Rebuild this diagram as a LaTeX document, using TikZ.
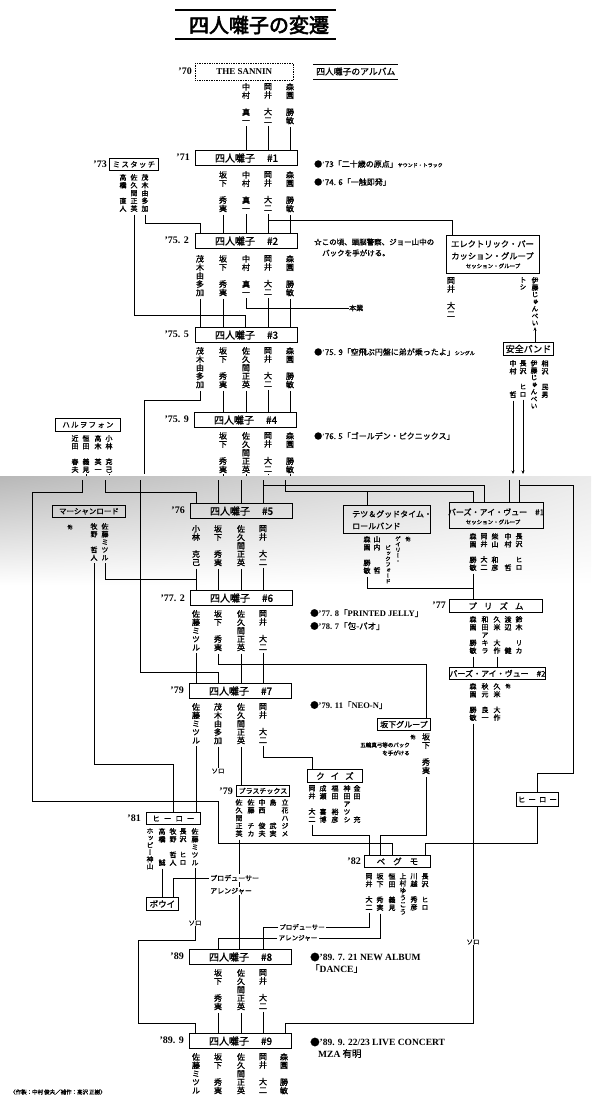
\documentclass[tikz,border=0pt]{standalone}
\usepackage{fontspec}
\usetikzlibrary{arrows.meta,shadings}
\newfontfamily\jp[FakeBold=1]{Noto Sans CJK JP}
\newfontfamily\jpv[RawFeature=+vert,FakeBold=1.4]{Noto Sans CJK JP}
\newfontfamily\jpm[FakeBold=1.6]{Noto Sans CJK JP}
\newfontfamily\jpb[FakeBold=3]{Noto Sans CJK JP}
\newfontfamily\ser{Liberation Serif}
\lineskiplimit=-20pt
\newcommand\gp{\\[8.4pt]}
\newcommand\gpp{\\[16.8pt]}
\newcommand\gq{\\[7.8pt]}
\newcommand\gqq{\\[15.6pt]}
\newcommand\ap{{\ser ’}}
\newcommand\sbf{\ser\bfseries}
\newcommand\dn[2]{\draw[ln] ([yshift=-2.5pt]#1.south) -- (#1.south |- #2.north);}
\begin{document}
\begin{tikzpicture}[x=1pt,y=-1pt,
 ln/.style={line width=0.75pt},
 arr/.style={line width=0.75pt,-{Stealth[length=3.5pt,width=3pt]}},
 mbox/.style={draw,line width=1.1pt,minimum width=102pt,minimum height=15pt,inner sep=0pt,anchor=north west,font=\jpm\fontsize{10}{10}\selectfont},
 gbox/.style={draw,line width=0.9pt,inner sep=0pt,anchor=north west},
 nm/.style={anchor=north,align=center,inner sep=0pt,font=\jpv\fontsize{8}{8.4}\selectfont},
 nms/.style={anchor=north,align=center,inner sep=0pt,font=\jpv\fontsize{7}{7.8}\selectfont},
 nmt/.style={anchor=north,align=center,inner sep=0pt,font=\jpv\fontsize{6.8}{7.1}\selectfont},
 nmx/.style={anchor=north,align=center,inner sep=0pt,font=\jpv\fontsize{5.5}{5.6}\selectfont},
 yr/.style={anchor=east,inner sep=0pt,font=\ser\bfseries\fontsize{10}{10}\selectfont},
 txt/.style={anchor=west,inner sep=0pt,font=\jp\fontsize{8}{8}\selectfont},
 sml/.style={inner sep=0pt,font=\jp\fontsize{5}{5}\selectfont},
 lab/.style={fill=white,inner sep=1pt,font=\jp\fontsize{7}{7}\selectfont},
 btxt/.style={inner sep=0pt,font=\jp\fontsize{8}{8}\selectfont},
]
\useasboundingbox (0,0) rectangle (591,1107);
\fill[white] (0,0) rectangle (591,1107);
\shade[upper left=black!28, upper right=black!8, lower left=white, lower right=white] (0,476) rectangle (591,585);

% title
\node[font=\jpb\fontsize{20}{20}\selectfont,inner sep=0pt] (title) at (259,25) {四人囃子の変遷};
\draw[line width=1.5pt] (175,10) -- (336,10);
\draw[line width=1.5pt] (175,39) -- (336,39);

% THE SANNIN
\node[yr] (y70) at (192,71.5) {’70};
\node[draw,densely dotted,line width=0.7pt,minimum width=98pt,minimum height=17pt,inner sep=0pt,anchor=north west,font=\ser\bfseries\fontsize{9}{9}\selectfont] (sannin) at (195,63) {THE SANNIN};
\node[txt,font=\jp\fontsize{8.8}{8.8}\selectfont] (albt) at (316,71.5) {四人囃子のアルバム};
\draw[line width=0.9pt] (313,64) -- (398,64);
\draw[line width=0.9pt] (313,79) -- (398,79);
\node[nm] (s0a) at (246,83) {中\\村\gp 真\\一};
\node[nm] (s0b) at (268,83) {岡\\井\gp 大\\二};
\node[nm] (s0c) at (290,83) {森\\園\gp 勝\\敏};

% #1
\node[yr] (y71) at (190,157) {’71};
\node[mbox] (b1) at (195,150) {四人囃子\hspace{12pt}\#1};
\node[nm] (s1a) at (223,171) {坂\\下\gp 秀\\実};
\node[nm] (s1b) at (246,171) {中\\村\gp 真\\一};
\node[nm] (s1c) at (268,171) {岡\\井\gp 大\\二};
\node[nm] (s1d) at (290,171) {森\\園\gp 勝\\敏};
\node[txt] (al73) at (314,164) {●\ap73「二十歳の原点」{\fontsize{5}{5}\selectfont サウンド・トラック}};
\node[txt] (al74) at (314,182) {●\ap74. 6「一触即発」};

% Mistouch
\node[yr] (y73) at (107,164) {’73};
\node[gbox,minimum width=49pt,minimum height=12pt,font=\jp\fontsize{7.5}{7.5}\selectfont] (mist) at (109,158) {ミ\,ス\,タ\,ッ\,チ};
\node[nms] (mt1) at (123,174) {高\\橋\gq 直\\人};
\node[nms] (mt2) at (134,174) {佐\\久\\間\\正\\英};
\node[nms] (mt3) at (145,174) {茂\\木\\由\\多\\加};

% #2
\node[yr] (y752) at (189,240.5) {’75. 2};
\node[mbox] (b2) at (195,233) {四人囃子\hspace{12pt}\#2};
\node[nm] (s2a) at (200,255) {茂\\木\\由\\多\\加};
\node[nm] (s2b) at (223,255) {坂\\下\gp 秀\\実};
\node[nm] (s2c) at (246,255) {中\\村\gp 真\\一};
\node[nm] (s2d) at (268,255) {岡\\井\gp 大\\二};
\node[nm] (s2e) at (290,255) {森\\園\gp 勝\\敏};
\node[anchor=west,inner sep=0pt,font=\jp\fontsize{7.5}{7.5}\selectfont] (note1) at (314,242) {☆この頃、頭脳警察、ジョー山中の};
\node[anchor=west,inner sep=0pt,font=\jp\fontsize{7.5}{7.5}\selectfont] (note2) at (322,253) {バックを手がける。};
\node[anchor=west,inner sep=0pt,font=\jp\fontsize{7}{7}\selectfont] (hongyo) at (349,308) {本業};

% EPG
\node[gbox,minimum width=93pt,minimum height=38pt] (epg) at (446,235) {};
\node[inner sep=0pt,font=\jp\fontsize{8.3}{8.3}\selectfont] (epg1) at (492.5,244) {エレクトリック・パー};
\node[inner sep=0pt,font=\jp\fontsize{8.3}{8.3}\selectfont] (epg2) at (492.5,256) {カッション・グループ};
\node[inner sep=0pt,font=\jp\fontsize{5.5}{5.5}\selectfont] (epg3) at (493,266) {セッション・グループ};
\node[nm] (ep1) at (451,277) {岡\\井\gp 大\\二};
\node[nmt] (ep2) at (523,277) {ト\\シ};
\node[nmt] (ep3) at (535,277) {伊\\藤\\じ\\ゅ\\ん\\ぺ\\い};

% Anzen band
\node[gbox,minimum width=50pt,minimum height=13pt,font=\jp\fontsize{9}{9}\selectfont] (anzen) at (503,342) {安全バンド};
\node[nms] (ab1) at (513,360) {中\\村\gqq 哲};
\node[nms] (ab2) at (523,360) {長\\沢\gq ヒ\\ロ};
\node[nmt] (ab3) at (534,360) {伊\\藤\\じ\\ゅ\\ん\\ぺ\\い};
\node[nms] (ab4) at (545,360) {相\\沢\gq 民\\男};

% #3
\node[yr] (y755) at (189,334.5) {’75. 5};
\node[mbox] (b3) at (195,327) {四人囃子\hspace{12pt}\#3};
\node[nm] (s3a) at (200,347) {茂\\木\\由\\多\\加};
\node[nm] (s3b) at (223,347) {坂\\下\gp 秀\\実};
\node[nm] (s3c) at (246,347) {佐\\久\\間\\正\\英};
\node[nm] (s3d) at (268,347) {岡\\井\gp 大\\二};
\node[nm] (s3e) at (290,347) {森\\園\gp 勝\\敏};
\node[txt] (al759) at (314,352) {●\ap75. 9「空飛ぶ円盤に弟が乗ったよ」{\fontsize{5}{5}\selectfont シングル}};

% #4
\node[yr] (y759) at (189,419.5) {’75. 9};
\node[mbox] (b4) at (194,412) {四人囃子\hspace{12pt}\#4};
\node[nm] (s4a) at (223,432) {坂\\下\gp 秀\\実};
\node[nm] (s4b) at (246,432) {佐\\久\\間\\正\\英};
\node[nm] (s4c) at (268,432) {岡\\井\gp 大\\二};
\node[nm] (s4d) at (290,432) {森\\園\gp 勝\\敏};
\node[txt] (al765) at (314,436) {●\ap76. 5「ゴールデン・ピクニックス」};

% Halvo-phone
\node[gbox,minimum width=65pt,minimum height=13pt,font=\jp\fontsize{7.5}{7.5}\selectfont] (harvo) at (55,418) {ハ\,ル\,ヲ\,フ\,ォ\,ン};
\node[nms] (hf1) at (75,435) {近\\田\gq 春\\夫};
\node[nms] (hf2) at (86,435) {恒\\田\gq 義\\見};
\node[nms] (hf3) at (98,435) {高\\木\gq 英\\一};
\node[nms] (hf4) at (109,435) {小\\林\gq 克\\己};

% Martian road
\node[gbox,minimum width=73pt,minimum height=12pt,font=\jp\fontsize{7.5}{7.5}\selectfont] (mars) at (52,505) {マーシャンロード};
\node[sml] (ml0) at (70,527) {他};
\node[nms] (ml1) at (94,523) {牧\\野\gq 哲\\人};
\node[nms] (ml2) at (105,523) {佐\\藤\\ミ\\ツ\\ル};

% #5
\node[yr] (y76) at (185,510.5) {’76};
\node[mbox] (b5) at (190,503) {四人囃子\hspace{12pt}\#5};
\node[nm] (s5a) at (196,525) {小\\林\gp 克\\己};
\node[nm] (s5b) at (218,525) {坂\\下\gp 秀\\実};
\node[nm] (s5c) at (241,525) {佐\\久\\間\\正\\英};
\node[nm] (s5d) at (263,525) {岡\\井\gp 大\\二};

% Tetsu
\node[gbox,minimum width=87pt,minimum height=28pt] (tetsu) at (343,505) {};
\node[anchor=west,inner sep=0pt,font=\jp\fontsize{8}{8}\selectfont] (tt1) at (352,514) {テツ＆グッドタイム・};
\node[anchor=west,inner sep=0pt,font=\jp\fontsize{8}{8}\selectfont] (tt2) at (352,526) {ロールバンド};
\node[nms] (tg1) at (367,536) {森\\園\gq 勝\\敏};
\node[nms] (tg2) at (377,536) {山\\内\gqq 哲};
\node[nmx] (tg3) at (388,545) {ビ\\ッ\\ク\\フ\\ォ\\ー\\ド};
\node[nmx] (tg4) at (398,536) {ゲ\\イ\\リ\\ー\\・};
\node[sml] (tg0) at (408,539) {他};

% BIV 1
\node[gbox,minimum width=94pt,minimum height=26pt] (biv1) at (449,502) {};
\node[btxt] (bv1t) at (496,512) {バーズ・アイ・ヴュー\hspace{8pt}\#1};
\node[inner sep=0pt,font=\jp\fontsize{5.5}{5.5}\selectfont] (bv1s) at (493,522) {セッション・グループ};
\node[nms] (bv1) at (473,533) {森\\園\gq 勝\\敏};
\node[nms] (bv2) at (484,533) {岡\\井\gq 大\\二};
\node[nms] (bv3) at (495,533) {柴\\山\gq 和\\彦};
\node[nms] (bv4) at (508,533) {中\\村\gqq 哲};
\node[nms] (bv5) at (519,533) {長\\沢\gq ヒ\\ロ};

% #6
\node[yr] (y772) at (185,598) {’77. 2};
\node[mbox] (b6) at (190,590) {四人囃子\hspace{12pt}\#6};
\node[nm] (s6a) at (196,610) {佐\\藤\\ミ\\ツ\\ル};
\node[nm] (s6b) at (218,610) {坂\\下\gp 秀\\実};
\node[nm] (s6c) at (241,610) {佐\\久\\間\\正\\英};
\node[nm] (s6d) at (263,610) {岡\\井\gp 大\\二};
\node[txt,font=\jp\fontsize{8.5}{8.5}\selectfont] (al778) at (310,613) {●{\sbf ’77. 8}「{\sbf PRINTED JELLY}」};
\node[txt,font=\jp\fontsize{8.5}{8.5}\selectfont] (al787) at (310,626) {●{\sbf ’78. 7}「包-パオ」};

% Prism
\node[yr] (y77) at (446,605.5) {’77};
\node[gbox,minimum width=93pt,minimum height=13pt,font=\jp\fontsize{8.5}{8.5}\selectfont] (prism) at (449,599) {プ\hspace{7pt}リ\hspace{7pt}ズ\hspace{7pt}ム};
\node[nms] (pr1) at (473,616) {森\\園\gq 勝\\敏};
\node[nms] (pr2) at (485,616) {和\\田\\ア\\キ\\ラ};
\node[nms] (pr3) at (497,616) {久\\米\gq 大\\作};
\node[nms] (pr4) at (508,616) {渡\\辺\gqq 健};
\node[nms] (pr5) at (519,616) {鈴\\木\gq リ\\カ};

% BIV 2
\node[gbox,minimum width=93pt,minimum height=12pt,font=\jp\fontsize{8}{8}\selectfont] (biv2) at (449,667) {バーズ・アイ・ヴュー\hspace{8pt}\#2};
\node[nms] (b2a) at (473,683) {森\\園\gq 勝\\敏};
\node[nms] (b2b) at (485,683) {秋\\元\gq 良\\一};
\node[nms] (b2c) at (497,683) {久\\米\gq 大\\作};
\node[sml] (b2d) at (508,686) {他};

% #7
\node[yr] (y79) at (184,690.5) {’79};
\node[mbox] (b7) at (189,683) {四人囃子\hspace{12pt}\#7};
\node[nm] (s7a) at (196,703) {佐\\藤\\ミ\\ツ\\ル};
\node[nm] (s7b) at (218,703) {茂\\木\\由\\多\\加};
\node[nm] (s7c) at (241,703) {佐\\久\\間\\正\\英};
\node[nm] (s7d) at (263,703) {岡\\井\gp 大\\二};
\node[txt,font=\jp\fontsize{8.5}{8.5}\selectfont] (al7911) at (310,705) {●{\sbf ’79. 11}「{\sbf NEO-N}」};
\node[inner sep=0pt,font=\jp\fontsize{6.5}{6.5}\selectfont] (solo1) at (218,771) {ソロ};

% Sakashita group
\node[gbox,minimum width=53pt,minimum height=12pt,font=\jp\fontsize{8}{8}\selectfont] (sgrp) at (377,718) {坂下グループ};
\node[sml] (sgt0) at (413,737) {他};
\node[anchor=east,inner sep=0pt,font=\jp\fontsize{5.5}{5.5}\selectfont] (sgt1) at (410,745) {五輪真弓等のバック};
\node[anchor=east,inner sep=0pt,font=\jp\fontsize{5.5}{5.5}\selectfont] (sgt2) at (410,753) {を手がける};
\node[nm] (sg1) at (426,733) {坂\\下\gp 秀\\実};

% Quiz
\node[gbox,minimum width=55pt,minimum height=13pt,font=\jp\fontsize{8.5}{8.5}\selectfont] (quiz) at (307,769) {ク\hspace{6pt}イ\hspace{6pt}ズ};
\node[nms] (qz1) at (312,785) {岡\\井\gq 大\\二};
\node[nms] (qz2) at (323,785) {成\\瀬\gq 喜\\博};
\node[nms] (qz3) at (335,785) {福\\田\gq 裕\\彦};
\node[nms] (qz4) at (347,785) {神\\田\\ア\\ツ\\シ};
\node[nms] (qz5) at (357,785) {金\\田\gqq 充};

% Plastics
\node[yr] (y79b) at (233,791) {’79};
\node[gbox,minimum width=53pt,minimum height=11pt,font=\jp\fontsize{7}{7}\selectfont] (plas) at (236,785) {プラスチックス};
\node[nms] (pl1) at (239,799) {佐\\久\\間\\正\\英};
\node[nms] (pl2) at (251,799) {佐\\藤\gq チ\\カ};
\node[nms] (pl3) at (262,799) {中\\西\gq 俊\\夫};
\node[nms] (pl4) at (273,799) {島\\[15.6pt]武\\実};
\node[nms] (pl5) at (285,799) {立\\花\\ハ\\ジ\\メ};

% Hero (left)
\node[yr] (y81) at (141,818.5) {’81};
\node[gbox,minimum width=54pt,minimum height=12pt,font=\jp\fontsize{7.5}{7.5}\selectfont] (heroL) at (146,812) {ヒ\hspace{4pt}ー\hspace{4pt}ロ\hspace{4pt}ー};
\node[nmt] (hr1) at (150,828) {ホ\\ッ\\ピ\\ー\\神\\山};
\node[nms] (hr2) at (162,828) {高\\橋\gqq 誠};
\node[nms] (hr3) at (173,828) {牧\\野\gq 哲\\人};
\node[nms] (hr4) at (183,828) {長\\沢\gq ヒ\\ロ};
\node[nms] (hr5) at (195,828) {佐\\藤\\ミ\\ツ\\ル};
\node[gbox,minimum width=32pt,minimum height=13pt,font=\jp\fontsize{8.5}{8.5}\selectfont] (bowie) at (146,897) {ボウイ};
\node[inner sep=0pt,font=\jp\fontsize{6.5}{6.5}\selectfont] (solo2) at (195,923) {ソロ};

% Hero (right)
\node[gbox,minimum width=42pt,minimum height=14pt,font=\jp\fontsize{7.5}{7.5}\selectfont] (heroR) at (516,792) {ヒ\hspace{3pt}ー\hspace{3pt}ロ\hspace{3pt}ー};

% Begumo
\node[yr] (y82) at (361,861.5) {’82};
\node[gbox,minimum width=66pt,minimum height=12pt,font=\jp\fontsize{8.5}{8.5}\selectfont] (begumo) at (364,855) {ベ\hspace{8pt}グ\hspace{8pt}モ};
\node[nms] (bg1) at (369,873) {岡\\井\gq 大\\二};
\node[nms] (bg2) at (380,873) {坂\\下\gq 秀\\実};
\node[nms] (bg3) at (392,873) {恒\\田\gq 義\\見};
\node[nmt] (bg4) at (403,873) {上\\村\\ゆ\\う\\こ\\う};
\node[nms] (bg5) at (414,873) {川\\越\gq 秀\\彦};
\node[nms] (bg6) at (425,873) {長\\沢\gq ヒ\\ロ};

% #8
\node[yr] (y89) at (184,956.5) {’89};
\node[mbox] (b8) at (189,949) {四人囃子\hspace{12pt}\#8};
\node[nm] (s8a) at (218,969) {坂\\下\gp 秀\\実};
\node[nm] (s8b) at (241,969) {佐\\久\\間\\正\\英};
\node[nm] (s8c) at (263,969) {岡\\井\gp 大\\二};
\node[txt,font=\jp\fontsize{9.5}{9.5}\selectfont] (al89a) at (310,957) {●{\sbf ’89. 7. 21 NEW ALBUM}};
\node[txt,font=\jp\fontsize{9.5}{9.5}\selectfont] (al89b) at (310,968.5) {「{\sbf DANCE}」};
\node[lab,font=\jp\fontsize{6.5}{6.5}\selectfont] (prod2) at (302,927) {プロデューサー};
\node[lab,font=\jp\fontsize{6.5}{6.5}\selectfont] (arr2) at (298,938) {アレンジャー};
\node[inner sep=0pt,font=\jp\fontsize{6.5}{6.5}\selectfont] (solo3) at (473,942) {ソロ};

% #9
\node[yr] (y899) at (184,1040.5) {’89. 9};
\node[mbox] (b9) at (189,1033) {四人囃子\hspace{12pt}\#9};
\node[nm] (s9a) at (196,1053) {佐\\藤\\ミ\\ツ\\ル};
\node[nm] (s9b) at (218,1053) {坂\\下\gp 秀\\実};
\node[nm] (s9c) at (241,1053) {佐\\久\\間\\正\\英};
\node[nm] (s9d) at (263,1053) {岡\\井\gp 大\\二};
\node[nm] (s9e) at (284,1053) {森\\園\gp 勝\\敏};
\node[txt,font=\jp\fontsize{9.5}{9.5}\selectfont] (al99a) at (310,1042) {●{\sbf ’89. 9. 22/23 LIVE CONCERT}};
\node[txt,font=\jp\fontsize{9.5}{9.5}\selectfont] (al99b) at (318,1053.5) {{\sbf MZA} 有明};
\node[anchor=west,inner sep=0pt,font=\jp\fontsize{5.5}{5.5}\selectfont] (foot) at (10,1092) {〈作製：中村\,俊夫／補作：高沢\,正樹〉};

% ===== connectors =====
\dn{s0a}{b1} \dn{s0b}{b1} \dn{s0c}{b1}
\dn{s1a}{b2} \dn{s1b}{b2} \dn{s1c}{b2} \dn{s1d}{b2}
\draw[ln] (268,220) -- (452,220) -- (452,0 |- epg.north);
\draw[ln] ([yshift=-2.5pt]mt3.south) |- (200,223) -- (200,0 |- b2.north);
\draw[ln] ([yshift=-2.5pt]mt2.south) |- (245,315) -- (245,0 |- b3.north);
\dn{s2a}{b3} \dn{s2b}{b3} \dn{s2d}{b3} \dn{s2e}{b3}
\draw[ln] ([yshift=-2.5pt]s2c.south) |- (hongyo.west);
\draw[arr] (ep3.south |- anzen.north) -- ([yshift=-1.5pt]ep3.south);
\dn{s3b}{b4} \dn{s3c}{b4} \dn{s3d}{b4} \dn{s3e}{b4}
% Mogi
\draw[ln] ([yshift=-2.5pt]s3a.south) |- (144,400) -- (144,474);
\draw[ln] (140,480) -- (140,672) -| (218,0 |- b7.north);
% Halvo-phone
\draw[ln] ([yshift=-2.5pt]hf2.south) -- (hf2.south |- 0,474);
\draw[ln] (82,480) |- (32,492) |- (218,801) |- (392,843) -- (392,0 |- begumo.north);
\draw[ln] ([yshift=-2.5pt]hf4.south) -- (hf4.south |- 0,474);
\draw[ln] (105,480) |- (196,492) -- (196,0 |- b5.north);
% #4 -> #5
\draw[ln] ([yshift=-2.5pt]s4a.south) -- (s4a.south |- 0,474);
\draw[ln] (218,480) -- (218,0 |- b5.north);
\draw[ln] ([yshift=-2.5pt]s4b.south) -- (s4b.south |- 0,474);
\draw[ln] (241,480) -- (241,0 |- b5.north);
\draw[ln] ([yshift=-2.5pt]s4c.south) -- (s4c.south |- 0,474);
\draw[ln] (263,480) -- (263,0 |- b5.north);
\draw[ln] (263,485) -- (484,485) -- (484,0 |- biv1.north);
\draw[ln] ([yshift=-2.5pt]s4d.south) -- (s4d.south |- 0,474);
\draw[ln] (285,480) |- (473,491) -- (473,0 |- biv1.north);
\draw[ln] (367,491) -- (367,0 |- tetsu.north);
% Anzen -> BIV1
\draw[arr] ([yshift=-2.5pt]ab1.south) -- (ab1.south |- 0,474);
\draw[ln] (509,480) -- (509,0 |- biv1.north);
\draw[arr] ([yshift=-2.5pt]ab2.south) -- (ab2.south |- 0,474);
\draw[ln] (519,480) -- (519,0 |- biv1.north);
\draw[ln] (519,485) -- (573,485) |- (537,773) -- (537,0 |- heroR.north);
% #5 -> #6
\dn{s5a}{b6} \dn{s5b}{b6} \dn{s5c}{b6} \dn{s5d}{b6}
\draw[ln] ([yshift=-2.5pt]ml2.south) |- (196,579);
\draw[ln] ([yshift=-2.5pt]ml1.south) |- (173,764) -- (173,0 |- heroL.north);
\draw[ln] ([yshift=-2.5pt]tg1.south) |- (473,588);
\dn{bv1}{prism}
% #6 -> #7
\dn{s6a}{b7} \dn{s6c}{b7} \dn{s6d}{b7}
\draw[ln] ([yshift=-2.5pt]s6b.south) |- (426,664) -- (426,0 |- sgrp.north);
\dn{pr1}{biv2} \dn{pr3}{biv2}
\draw[ln] ([yshift=-2.5pt]b2a.south) -- (solo3.north);
\draw[ln] (solo3.south) |- (285,1023) -- (285,0 |- b9.north);
% #7
\dn{s7a}{heroL}
\draw[ln] ([yshift=-2.5pt]s7b.south) -- (solo1.north);
\dn{s7c}{plas}
\draw[ln] ([yshift=-2.5pt]s7d.south) |- (312,757) -- (312,0 |- quiz.north);
\draw[ln] ([yshift=-2.5pt]sg1.south) |- (380,835) -- (380,0 |- begumo.north);
\draw[ln] ([yshift=-2.5pt]qz1.south) |- (369,835) -- (369,0 |- begumo.north);
\draw[ln] (heroR.south) |- (425,843) -- (425,0 |- begumo.north);
% Hero (left)
\dn{hr2}{bowie}
\draw[ln] ([yshift=-2.5pt]hr5.south) -- (solo2.north);
\draw[ln] (solo2.south) |- (138,940) |- (195,1023) -- (195,0 |- b9.north);
\dn{pl1}{b8}
\node[lab,anchor=west,font=\jp\fontsize{7}{7}\selectfont] (prod1) at (209,878) {プロデューサー};
\node[lab,anchor=west,font=\jp\fontsize{7}{7}\selectfont] (arr1) at (209,891) {アレンジャー};
\draw[ln] (173,0 |- bowie.north) |- (prod1.west);
% Begumo -> #8
\draw[ln] ([yshift=-2.5pt]bg1.south) |- (prod2.east);
\draw[ln] (prod2.west) -| (263,0 |- b8.north);
\draw[ln] ([yshift=-2.5pt]bg2.south) |- (arr2.east);
\draw[ln] (arr2.west) -| (218,0 |- b8.north);
% #8 -> #9
\dn{s8a}{b9} \dn{s8b}{b9} \dn{s8c}{b9}
\end{tikzpicture}
\end{document}
